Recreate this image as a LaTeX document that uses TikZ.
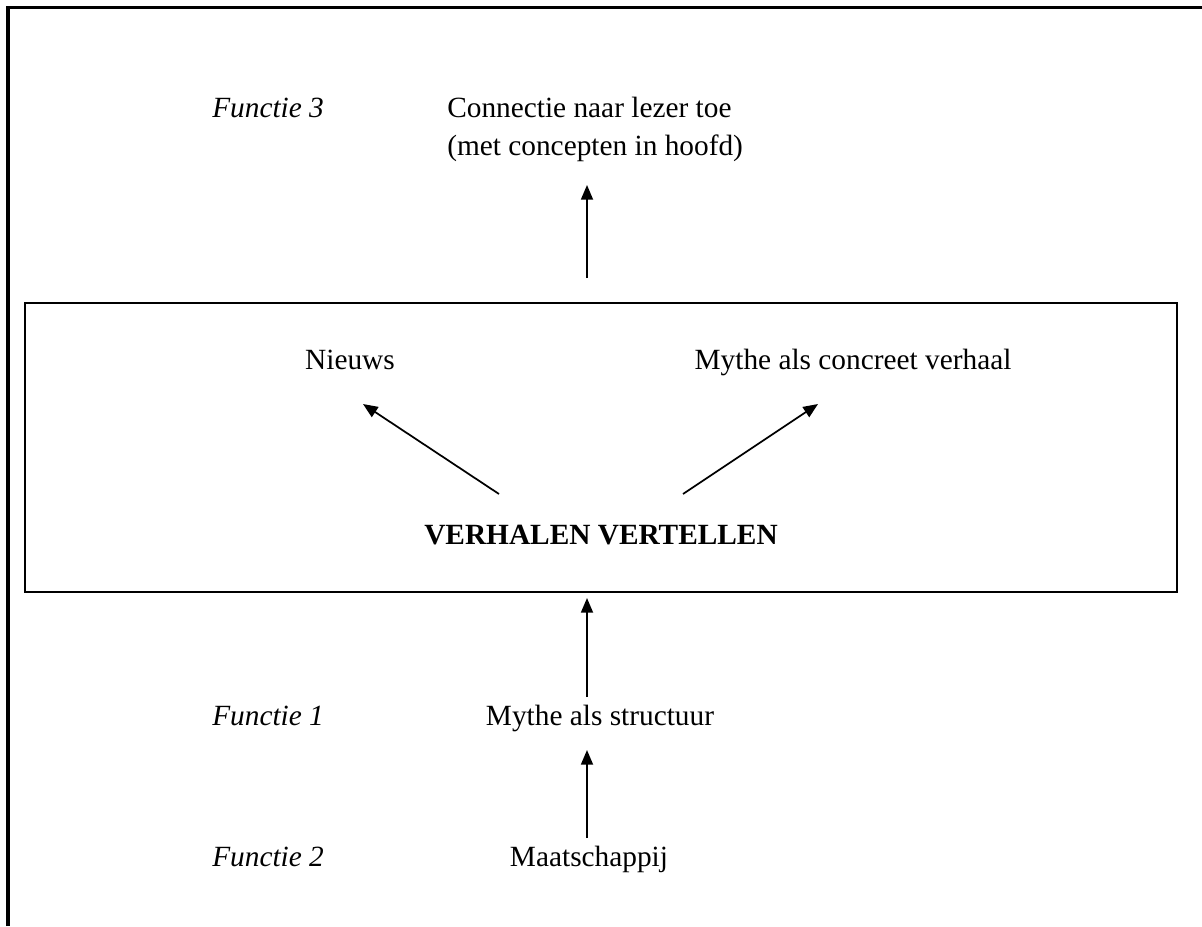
\documentclass[tikz,border=0pt]{standalone}
\usepackage{fontspec}
\setmainfont{Liberation Serif}
\usetikzlibrary{arrows.meta}
\begin{document}
\begin{tikzpicture}[x=0.75pt,y=-0.75pt,
  txt/.style={inner sep=0pt,font=\fontsize{22}{28.5}\selectfont},
  fn/.style={txt,font=\fontsize{22}{28.5}\selectfont\itshape,anchor=base west},
  arr/.style={line width=1.3pt,-{Triangle[length=11pt,width=9pt]}},
  frame/.style={line width=2.3pt},
  boxst/.style={draw,line width=1.2pt,minimum width=864pt,minimum height=216.75pt,inner sep=0pt}]
\useasboundingbox (0,0) rectangle (1202,926);
% outer frame (left and top edges)
\draw[frame] (8,926) -- (8,7.5) -- (1202,7.5);
% inner box
\node[boxst] (box) at (601,447.5) {};
% texts
\node[fn] (f3) at (212,117) {Functie 3};
\node[txt,align=left,anchor=north west] (conn) at (447,97) {Connectie naar lezer toe\\(met concepten in hoofd)};
\node[txt,anchor=base] (nieuws) at (350,369) {Nieuws};
\node[txt,anchor=base] (mythe) at (853,369) {Mythe als concreet verhaal};
\node[txt,anchor=base,font=\fontsize{22}{28}\selectfont\bfseries] (verhalen) at (601,544) {VERHALEN VERTELLEN};
\node[fn] (f1) at (212,725) {Functie 1};
\node[txt,anchor=base] (struct) at (600,725) {Mythe als structuur};
\node[fn] (f2) at (212,866) {Functie 2};
\node[txt,anchor=base] (maat) at (589,866) {Maatschappij};
% arrow end points
\coordinate (a3s) at (587,278);
\coordinate (a3e) at (587,185);
\coordinate (als) at (499,494);
\coordinate (ale) at (363,404);
\coordinate (ars) at (683,494);
\coordinate (are) at (818,404);
\coordinate (a1s) at (587,697);
\coordinate (a1e) at (587,598);
\coordinate (a2s) at (587,838);
\coordinate (a2e) at (587,750);
% connectors
\draw[arr] (a3s) -- (a3e);
\draw[arr] (als) -- (ale);
\draw[arr] (ars) -- (are);
\draw[arr] (a1s) -- (a1e);
\draw[arr] (a2s) -- (a2e);
\end{tikzpicture}
\end{document}
